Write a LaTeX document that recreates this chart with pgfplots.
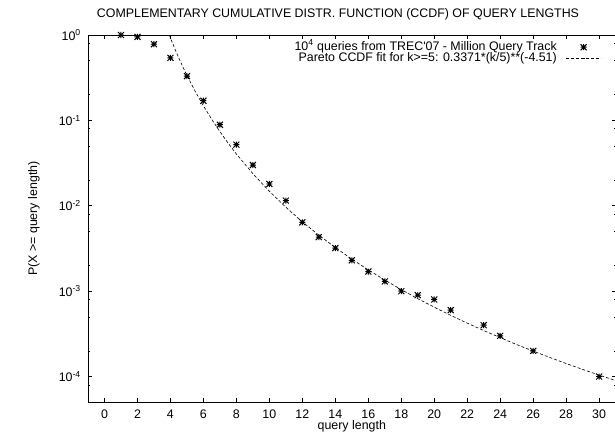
\documentclass[border=0pt]{standalone}
\usepackage{fontspec}
\setmainfont{Liberation Sans}
\usepackage{pgfplots}
\pgfplotsset{compat=1.18}
\pgfdeclareplotmark{gpstar}{%
  \pgfpathmoveto{\pgfqpoint{-\pgfplotmarksize}{0pt}}\pgfpathlineto{\pgfqpoint{\pgfplotmarksize}{0pt}}%
  \pgfpathmoveto{\pgfqpoint{0pt}{-\pgfplotmarksize}}\pgfpathlineto{\pgfqpoint{0pt}{\pgfplotmarksize}}%
  \pgfpathmoveto{\pgfqpoint{-\pgfplotmarksize}{-\pgfplotmarksize}}\pgfpathlineto{\pgfqpoint{\pgfplotmarksize}{\pgfplotmarksize}}%
  \pgfpathmoveto{\pgfqpoint{-\pgfplotmarksize}{\pgfplotmarksize}}\pgfpathlineto{\pgfqpoint{\pgfplotmarksize}{-\pgfplotmarksize}}%
  \pgfusepathqstroke}
\begin{document}
\fontsize{12.4bp}{13bp}\selectfont
\begin{tikzpicture}
\useasboundingbox (-88bp,-37.7bp) rectangle (527bp,402.3bp);
\begin{axis}[
  scale only axis,
  width=527.6bp, height=367.3bp,
  at={(0,0)}, anchor=south west,
  ymode=log,
  xmin=-1, xmax=31,
  ymin=5e-5, ymax=1,
  xtick={0,2,...,30},
  ytick={1,0.1,0.01,0.001,0.0001},
  yticklabels={10\textsuperscript{0},10\textsuperscript{-1},10\textsuperscript{-2},10\textsuperscript{-3},10\textsuperscript{-4}},
  minor ytick={0.8,0.5,0.2,0.08,0.05,0.02,0.008,0.005,0.002,0.0008,0.0005,0.0002,0.00008},
  /pgf/number format/assume math mode=true,
  major tick length=4bp, minor tick length=2bp,
  tick style={black, line width=0.6pt},
  axis line style={black, line width=0.8pt},
  xticklabel style={anchor=center, inner sep=0pt, yshift=-11.5bp},
  yticklabel style={anchor=east, inner sep=0pt, xshift=-7bp},
  xlabel={query length},
  xlabel style={at={([yshift=-23.7bp]axis description cs:0.5,0)}, anchor=center},
  ylabel={P(X >= query length)},
  ylabel style={at={([xshift=-54bp]axis description cs:0,0.5)}, anchor=center},
  legend style={draw=none, fill=none, inner sep=0pt, at={([xshift=-14bp,yshift=-7bp]rel axis cs:1,1)}, anchor=north east,
    row sep=1bp, column sep=9bp, nodes={inner sep=0pt, text height=8bp, text depth=2bp}},
  legend cell align=right,
  legend plot pos=right,
  legend image code/.code={\draw[mark repeat=2,mark phase=2,#1] plot coordinates {(0bp,0bp) (17.5bp,0bp) (35bp,0bp)};},
]
\addplot[only marks, mark=gpstar, mark size=3bp, line width=1pt, black] coordinates {
(1,1.0) (2,0.95) (3,0.78) (4,0.54) (5,0.33) (6,0.17) (7,0.089) (8,0.052) (9,0.030)
(10,0.018) (11,0.0115) (12,0.0064) (13,0.0043) (14,0.0032) (15,0.0023) (16,0.0017)
(17,0.0013) (18,0.0010) (19,0.0009) (20,0.0008) (21,0.0006) (23,0.0004) (24,0.0003)
(26,0.0002) (30,0.0001)};
\addlegendentry{10\textsuperscript{4} queries from TREC\textquotesingle 07 - Million Query Track}
\addplot[black, line width=0.6pt, dash pattern=on 3bp off 2bp] coordinates {
(3.93,1.0) (4,0.9222) (4.25,0.7016) (4.5,0.5422) (4.75,0.4248) (5,0.3371) (5.5,0.21932)
(6,0.14813) (6.5,0.10325) (7,0.07392) (7.5,0.05414) (8,0.04047) (9,0.02379) (10,0.014795)
(11,0.009625) (12,0.006503) (13,0.004532) (14,0.003245) (15,0.002377) (16,0.001776)
(17,0.001351) (18,0.001044) (19,0.000818) (20,0.000650) (21,0.000521) (22,0.000423)
(23,0.000346) (24,0.000286) (25,0.000237) (26,0.000199) (27,0.0001677) (28,0.0001423)
(29,0.0001214) (30,0.0001041) (31,0.0000899)};
\addlegendentry{Pareto CCDF fit for k>=5: 0.3371*(k/5)**(-4.51)}
\end{axis}
\node at (250bp,388.3bp) {COMPLEMENTARY CUMULATIVE DISTR. FUNCTION (CCDF) OF QUERY LENGTHS};
\end{tikzpicture}
\end{document}
